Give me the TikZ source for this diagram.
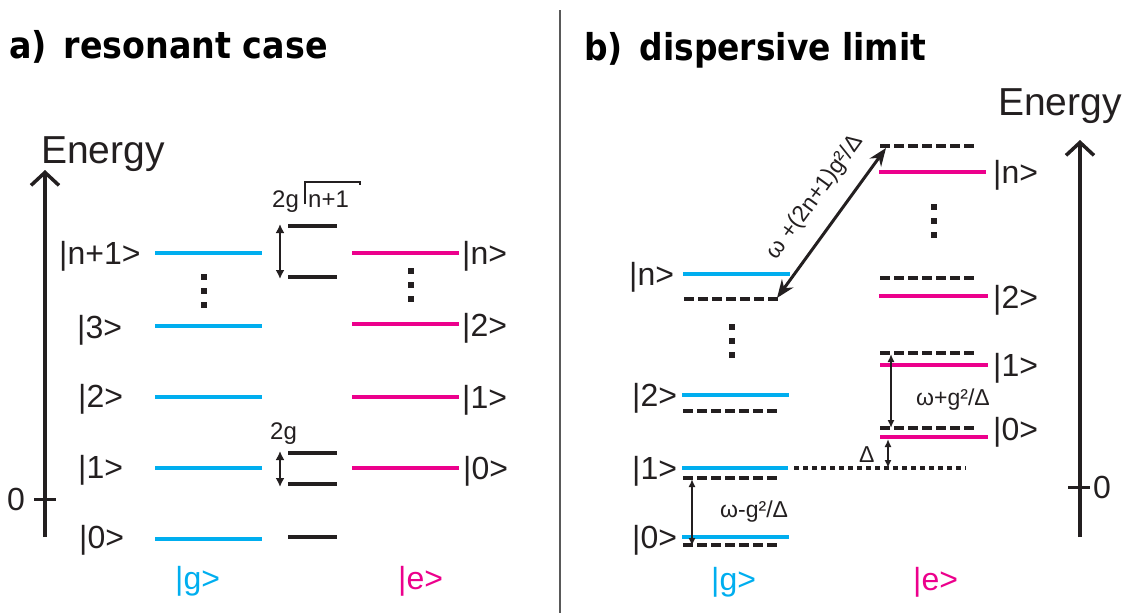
\documentclass[tikz,border=0pt]{standalone}
\usepackage{fontspec}
\setmainfont{Liberation Sans}
\newfontfamily\titlefont{DejaVu Sans}
\usetikzlibrary{arrows.meta}

\definecolor{myblue}{RGB}{0,174,239}
\definecolor{mymagenta}{RGB}{236,0,140}
\definecolor{mydark}{RGB}{35,31,32}

\tikzset{
  glevel/.style={myblue, line width=4pt},
  elevel/.style={mymagenta, line width=4pt},
  klevel/.style={mydark, line width=4pt},
  dlevel/.style={mydark, line width=4pt, dash pattern=on 10pt off 4pt},
  dotline/.style={mydark, line width=4pt, dash pattern=on 4.5pt off 4.5pt},
  vdots/.style={mydark, line width=6pt, dash pattern=on 6pt off 8.2pt},
  energyaxis/.style={mydark, line width=3.5pt, -{Straight Barb[length=13pt,width=28pt]}},
  gaparrow/.style={mydark, line width=2.5pt, {Latex[length=9pt,width=9pt]}-{Latex[length=9pt,width=9pt]}},
  thinarrow/.style={mydark, line width=1.8pt, {Latex[length=8pt,width=7pt]}-{Latex[length=8pt,width=7pt]}},
  shiftarrow/.style={mydark, line width=3pt, {Stealth[length=18pt,width=14pt]}-{Stealth[length=18pt,width=14pt]}},
  lbl/.style={inner sep=0pt, anchor=base west, text=mydark, font=\fontsize{32}{38}\selectfont},
  smalllbl/.style={inner sep=0pt, anchor=base west, text=mydark, font=\fontsize{24}{28}\selectfont},
  paneltitle/.style={inner sep=0pt, anchor=base west, font=\fontsize{37}{44}\selectfont\titlefont\bfseries},
}

\begin{document}
\begin{tikzpicture}[x=1pt, y=-1pt]
\useasboundingbox (0,0) rectangle (1128,613);

% Divider and titles
\draw[gray!70!black, line width=1.5pt] (560,10) -- (560,613);
\node[paneltitle] (titleA) at (9,58) {\scalebox{0.9}[1]{a)\hspace{6pt} resonant case}};
\node[paneltitle] (titleB) at (584,60) {\scalebox{0.89}[1]{b)\hspace{6pt} dispersive limit}};

% ---------- a) resonant case ----------

% Energy axis
\coordinate (axisAbot) at (45,537);
\coordinate (axisAtop) at (45,170);
\draw[energyaxis] (axisAbot) -- (axisAtop);
\draw[mydark, line width=3pt] (34,499) -- (56,499);
\node[lbl] (zeroA) at (7,510.5) {0};
\node[lbl, font=\fontsize{39}{46}\selectfont] (energyA) at (41,163) {Energy};

% Draw the |g> levels
\draw[glevel] (155,253) -- (262,253);
\draw[glevel] (155,326) -- (262,326);
\draw[glevel] (155,397) -- (262,397);
\draw[glevel] (155,468) -- (262,468);
\draw[glevel] (155,539) -- (262,539);

% Draw the |e> levels
\draw[elevel] (352,253) -- (459,253);
\draw[elevel] (352,324) -- (459,324);
\draw[elevel] (352,397) -- (459,397);
\draw[elevel] (352,468) -- (459,468);

% Draw the dressed levels
\draw[klevel] (288,226) -- (337,226);
\draw[klevel] (288,277) -- (337,277);
\draw[klevel] (288,453) -- (337,453);
\draw[klevel] (288,484) -- (337,484);
\draw[klevel] (288,537) -- (337,537);

% Dots
\draw[vdots] (204,274) -- (204,308);
\draw[vdots] (411,268) -- (411,302);

% Labels for |g>
\node[lbl] (gAn) at (59,264.5) {|n+1>};
\node[lbl] (gA3) at (77,338.5) {|3>};
\node[lbl] (gA2) at (78,407.5) {|2>};
\node[lbl] (gA1) at (78,478.5) {|1>};
\node[lbl] (gA0) at (79,548.5) {|0>};

% Labels for |e>
\node[lbl] (eAn) at (462,264.5) {|n>};
\node[lbl] (eA2) at (462,336) {|2>};
\node[lbl] (eA1) at (462,408.5) {|1>};
\node[lbl] (eA0) at (463,479.5) {|0>};

\node[lbl, text=myblue] (ketgA) at (175,589) {|g>};
\node[lbl, text=mymagenta] (keteA) at (398,589) {|e>};

% Splittings
\coordinate (splitNtop) at (280,224);
\coordinate (splitNbot) at (280,279);
\draw[gaparrow] (splitNtop) -- (splitNbot);
\coordinate (splitOtop) at (280,451);
\coordinate (splitObot) at (280,487);
\draw[gaparrow] (splitOtop) -- (splitObot);

\node[smalllbl] (rabiN) at (272,207) {2g};
\draw[mydark, line width=1.6pt] (305,204) -- (305,182) -- (360,182) -- (360,185);
\node[smalllbl] (rabiRoot) at (308,207) {n+1};
\node[smalllbl] (rabiO) at (270,439) {2g};

% ---------- b) dispersive limit ----------

% Energy axis
\coordinate (axisBbot) at (1080,537);
\coordinate (axisBtop) at (1080,140);
\draw[energyaxis] (axisBbot) -- (axisBtop);
\draw[mydark, line width=3pt] (1068,487) -- (1090,487);
\node[lbl] (zeroB) at (1093,498.5) {0};
\node[lbl, font=\fontsize{39}{46}\selectfont] (energyB) at (998,115) {Energy};

% Draw the |g> levels
\draw[glevel] (683,274) -- (790,274);
\draw[glevel] (682,395) -- (789,395);
\draw[glevel] (682,468) -- (788,468);
\draw[glevel] (682,537) -- (789,537);

% Shifted |g> levels
\draw[dlevel] (684,299) -- (780,299);
\draw[dlevel] (683,411) -- (779,411);
\draw[dlevel] (683,478) -- (779,478);
\draw[dlevel] (683,545) -- (778,545);

% Draw the |e> levels
\draw[elevel] (879,172) -- (986,172);
\draw[elevel] (879,296) -- (988,296);
\draw[elevel] (880,365) -- (988,365);
\draw[elevel] (880,437) -- (988,437);

% Shifted |e> levels
\draw[dlevel] (880,146) -- (975,146);
\draw[dlevel] (880,278) -- (975,278);
\draw[dlevel] (880,353) -- (976,353);
\draw[dlevel] (880,428) -- (976,428);

% Reference line and dots
\draw[dotline] (794,468) -- (966,468);
\draw[vdots] (732,324) -- (732,358);
\draw[vdots] (934,204) -- (934,238);

% Labels for |g>
\node[lbl] (gBn) at (629,285.5) {|n>};
\node[lbl] (gB2) at (632,406.5) {|2>};
\node[lbl] (gB1) at (632,479.5) {|1>};
\node[lbl] (gB0) at (632,548.5) {|0>};

% Labels for |e>
\node[lbl] (eBn) at (993,183.5) {|n>};
\node[lbl] (eB2) at (993,308) {|2>};
\node[lbl] (eB1) at (993,376.5) {|1>};
\node[lbl] (eB0) at (993,440.5) {|0>};

\node[lbl, text=myblue] (ketgB) at (711,590) {|g>};
\node[lbl, text=mymagenta] (keteB) at (913,590) {|e>};

% Transitions
\coordinate (gnShift) at (777,298);
\coordinate (enShift) at (886,148);
\draw[shiftarrow] (gnShift) -- (enShift)
  node[pos=0.56, sloped, above=16pt, inner sep=0pt, text=mydark, font=\fontsize{23}{27}\selectfont] (shiftlbl) {ω +(2n+1)g²/Δ};

\coordinate (g1Shift) at (692,479);
\coordinate (g0Shift) at (692,546);
\draw[thinarrow] (g1Shift) -- (g0Shift);
\node[smalllbl, font=\fontsize{23}{27}\selectfont] (freqG) at (720,517) {ω-g²/Δ};

\coordinate (e1Shift) at (891,354);
\coordinate (e0Shift) at (891,428);
\draw[thinarrow] (e1Shift) -- (e0Shift);
\node[smalllbl, font=\fontsize{23}{27}\selectfont] (freqE) at (916,405) {ω+g²/Δ};

\coordinate (e0Bare) at (888,439);
\coordinate (g1Bare) at (888,468);
\draw[thinarrow] (e0Bare) -- (g1Bare);
\node[smalllbl, font=\fontsize{23}{27}\selectfont] (detuning) at (859,462) {Δ};

\end{tikzpicture}
\end{document}
